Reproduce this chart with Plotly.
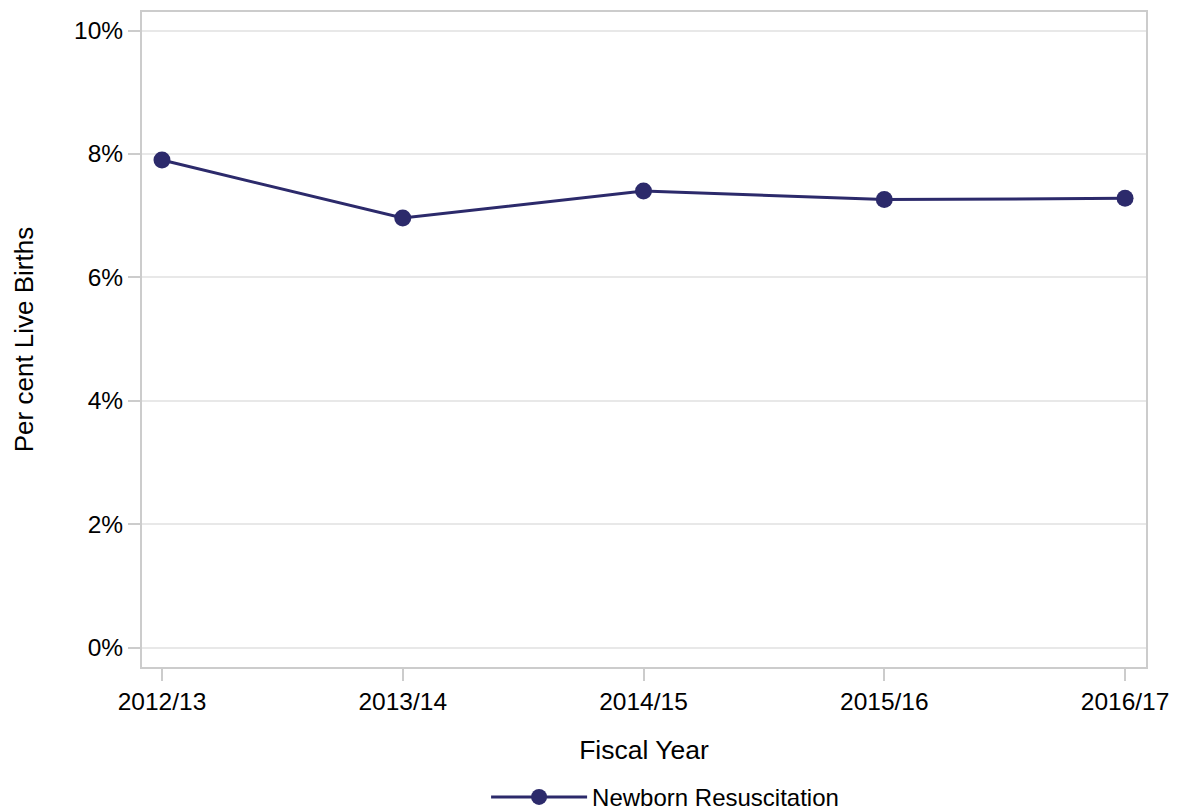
import plotly.graph_objects as go

years = ["2012/13", "2013/14", "2014/15", "2015/16", "2016/17"]
values = [7.90, 6.96, 7.40, 7.26, 7.28]
series_name = "Newborn Resuscitation"
y_ticks = [0, 2, 4, 6, 8, 10]
y_tick_labels = ["0%", "2%", "4%", "6%", "8%", "10%"]

color = "#2c2a6b"
font = "Liberation Sans, Arial, sans-serif"

fig = go.Figure()
fig.add_trace(go.Scatter(
    x=list(range(len(years))), y=values, name=series_name,
    mode="lines+markers",
    line=dict(color=color, width=3),
    marker=dict(color=color, size=17),
))

fig.update_layout(
    width=1177, height=812,
    margin=dict(l=142, r=31, t=12, b=145, autoexpand=False),
    plot_bgcolor="white", paper_bgcolor="white",
    font=dict(family=font, size=24, color="black"),
    showlegend=True,
    legend=dict(orientation="h", x=0.521, xanchor="center", y=-0.199, yanchor="middle",
                font=dict(size=24), itemwidth=96),
    xaxis=dict(
        range=[-0.083, 4.087],
        tickvals=list(range(len(years))), ticktext=years,
        showgrid=False, zeroline=False, automargin=False,
        showline=True, linecolor="#cccccc", linewidth=2, mirror=True,
        ticks="outside", ticklen=12, tickcolor="#cccccc", tickwidth=2,
        tickfont=dict(size=24.5),
        title=dict(text="Fiscal Year", font=dict(size=26.5), standoff=26),
    ),
    yaxis=dict(
        range=[-0.316, 10.3],
        tickvals=y_ticks, ticktext=y_tick_labels,
        showgrid=True, gridcolor="#e8e8e8", gridwidth=2, zeroline=False, automargin=False,
        showline=True, linecolor="#cccccc", linewidth=2, mirror=True,
        ticks="outside", ticklen=12, tickcolor="#cccccc", tickwidth=2,
        tickfont=dict(size=24.5),
        title=dict(text="Per cent Live Births", font=dict(size=26), standoff=33),
    ),
)

fig.write_html("out.html", config={"displayModeBar": False},
               post_script="document.body.style.margin='0px';document.body.style.overflow='hidden';")
